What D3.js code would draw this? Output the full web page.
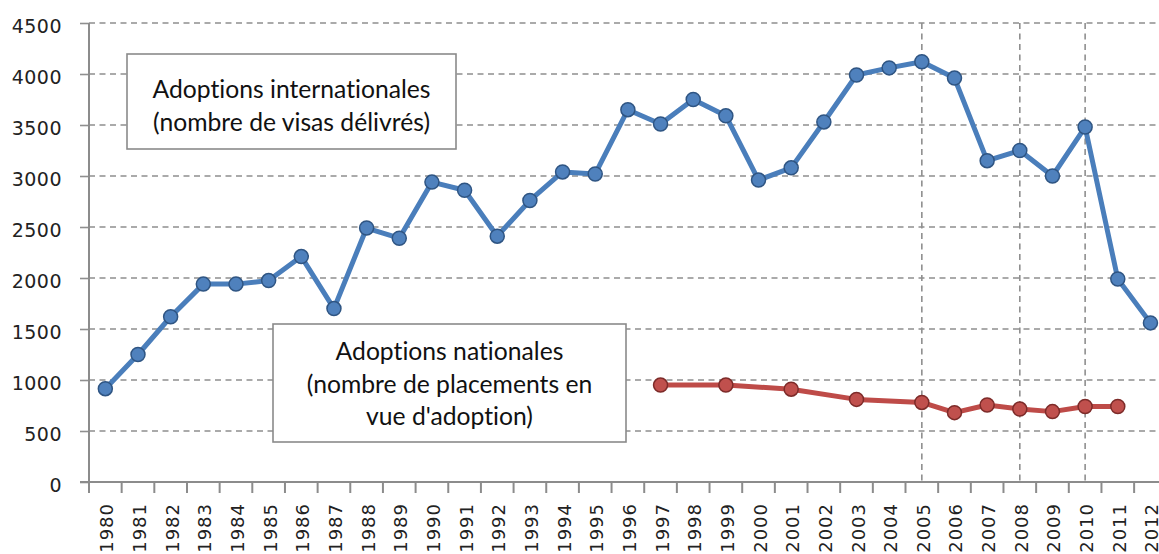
<!DOCTYPE html>
<html lang="fr">
<head>
<meta charset="utf-8">
<title>Adoptions internationales et nationales</title>
<script src="https://d3js.org/d3.v7.min.js"></script>
<style>
  body { margin: 0; background: #fff; }
  .lbl { font-family: "DejaVu Sans", sans-serif; fill: #222; }
  .note { font-family: Lato, "Open Sans", sans-serif; fill: #111; font-variant-ligatures: none; }
</style>
</head>
<body>
<script>
// categories (years)
var years = ["1980","1981","1982","1983","1984","1985","1986","1987","1988","1989",
             "1990","1991","1992","1993","1994","1995","1996","1997","1998","1999",
             "2000","2001","2002","2003","2004","2005","2006","2007","2008","2009",
             "2010","2011","2012"];

// international adoptions (visas)
var international = [915, 1250, 1620, 1940, 1940, 1975, 2210, 1700, 2490, 2390,
                     2940, 2860, 2410, 2760, 3040, 3020, 3650, 3510, 3750, 3590,
                     2960, 3080, 3530, 3990, 4060, 4120, 3960, 3150, 3250, 3000,
                     3480, 1990, 1560];

// national adoptions (placements), null = no data
var national = [null, null, null, null, null, null, null, null, null, null,
                null, null, null, null, null, null, null, 950, null, 950,
                null, 910, null, 810, null, 780, 680, 755, 715, 690,
                740, 740, null];

var yTicks = [0, 500, 1000, 1500, 2000, 2500, 3000, 3500, 4000, 4500];
var markedYears = ["2005", "2008", "2010"];

var noteIntl = ["Adoptions internationales", "(nombre de visas délivrés)"];
var noteNat = ["Adoptions nationales", "(nombre de placements en", "vue d'adoption)"];

var W = 1159, H = 554;
var plotLeft = 89, plotTop = 23, plotBottom = 482;
var step = 32.66;

var svg = d3.select("body").append("svg")
  .attr("width", W).attr("height", H)
  .style("display", "block");

svg.append("rect").attr("width", W).attr("height", H).attr("fill", "#fff");

var x = d3.scaleBand().domain(years).range([plotLeft, plotLeft + step * years.length]).padding(0);
var y = d3.scaleLinear().domain([0, 4500]).range([plotBottom, plotTop]);
var cx = function(d) { return x(d) + x.bandwidth() / 2; };

// horizontal dashed grid
svg.append("g").selectAll("line")
  .data(yTicks.filter(function(t) { return t > 0; }))
  .enter().append("line")
  .attr("x1", plotLeft).attr("x2", W)
  .attr("y1", function(d) { return y(d); })
  .attr("y2", function(d) { return y(d); })
  .attr("stroke", "#8f8f8f")
  .attr("stroke-width", 1.6)
  .attr("stroke-dasharray", "6,4.5");

// vertical dashed markers
svg.append("g").selectAll("line")
  .data(markedYears)
  .enter().append("line")
  .attr("x1", cx).attr("x2", cx)
  .attr("y1", plotTop).attr("y2", plotBottom)
  .attr("stroke", "#8f8f8f")
  .attr("stroke-width", 1.6)
  .attr("stroke-dasharray", "6,4.5");

// y axis
var yAxis = svg.append("g")
  .attr("transform", "translate(" + plotLeft + ",0)")
  .call(d3.axisLeft(y).tickValues(yTicks).tickSize(9).tickPadding(0).tickFormat(d3.format("d")));
yAxis.select(".domain").remove();
yAxis.selectAll(".tick line").attr("stroke", "#8f8f8f").attr("stroke-width", 1.6);
yAxis.selectAll(".tick text")
  .attr("class", "lbl")
  .attr("x", -27)
  .attr("dy", "9px")
  .attr("text-anchor", "end")
  .style("font-size", "19px")
  .style("letter-spacing", "0.5px");

svg.append("line")
  .attr("x1", plotLeft).attr("x2", plotLeft)
  .attr("y1", plotTop).attr("y2", plotBottom + 11)
  .attr("stroke", "#8c8c8c").attr("stroke-width", 2);

// x axis labels
var xAxis = svg.append("g")
  .attr("transform", "translate(0," + plotBottom + ")")
  .call(d3.axisBottom(x).tickSize(0).tickPadding(0));
xAxis.select(".domain").remove();
xAxis.selectAll(".tick text")
  .attr("class", "lbl")
  .attr("transform", "translate(8,21) rotate(-90)")
  .attr("x", 0).attr("y", 0).attr("dy", 0)
  .attr("text-anchor", "end")
  .style("font-size", "18px")
  .style("letter-spacing", "1px");

// x axis line and boundary ticks
svg.append("line")
  .attr("x1", plotLeft - 9).attr("x2", W)
  .attr("y1", plotBottom).attr("y2", plotBottom)
  .attr("stroke", "#8c8c8c").attr("stroke-width", 2);
svg.append("g").selectAll("line")
  .data(years.slice(1).concat(["end"]))
  .enter().append("line")
  .attr("x1", function(d, i) { return x(years[0]) + (i + 1) * x.bandwidth(); })
  .attr("x2", function(d, i) { return x(years[0]) + (i + 1) * x.bandwidth(); })
  .attr("y1", plotBottom).attr("y2", plotBottom + 11)
  .attr("stroke", "#8c8c8c").attr("stroke-width", 2);

// series
function drawSeries(values, lineColor, fill, stroke) {
  var pts = years.map(function(d, i) { return { year: d, v: values[i] }; })
    .filter(function(p) { return p.v !== null; });
  var line = d3.line()
    .x(function(p) { return cx(p.year); })
    .y(function(p) { return y(p.v); });
  svg.append("path")
    .datum(pts)
    .attr("d", line)
    .attr("fill", "none")
    .attr("stroke", lineColor)
    .attr("stroke-width", 5)
    .attr("stroke-linejoin", "round");
  svg.append("g").selectAll("circle")
    .data(pts)
    .enter().append("circle")
    .attr("cx", function(p) { return cx(p.year); })
    .attr("cy", function(p) { return y(p.v); })
    .attr("r", 7)
    .attr("fill", fill)
    .attr("stroke", stroke)
    .attr("stroke-width", 1.5);
}

drawSeries(international, "#4a7ebb", "#4f81bd", "#2f5583");
drawSeries(national, "#be4b48", "#c0504d", "#7d2b29");

// annotation boxes
function note(lines, bx, by, bw, bh, baseline0, lineH) {
  var g = svg.append("g");
  g.append("rect")
    .attr("x", bx).attr("y", by).attr("width", bw).attr("height", bh)
    .attr("fill", "#fff").attr("stroke", "#8a8a8a").attr("stroke-width", 1.6);
  g.selectAll("text")
    .data(lines)
    .enter().append("text")
    .attr("class", "note")
    .attr("x", bx + bw / 2)
    .attr("y", function(d, i) { return baseline0 + i * lineH; })
    .attr("text-anchor", "middle")
    .style("font-size", "24.7px")
    .text(function(d) { return d; });
}

note(noteIntl, 127, 54, 329, 95, 98, 33);
note(noteNat, 273, 324, 353, 118, 360, 32.5);
</script>
</body>
</html>
